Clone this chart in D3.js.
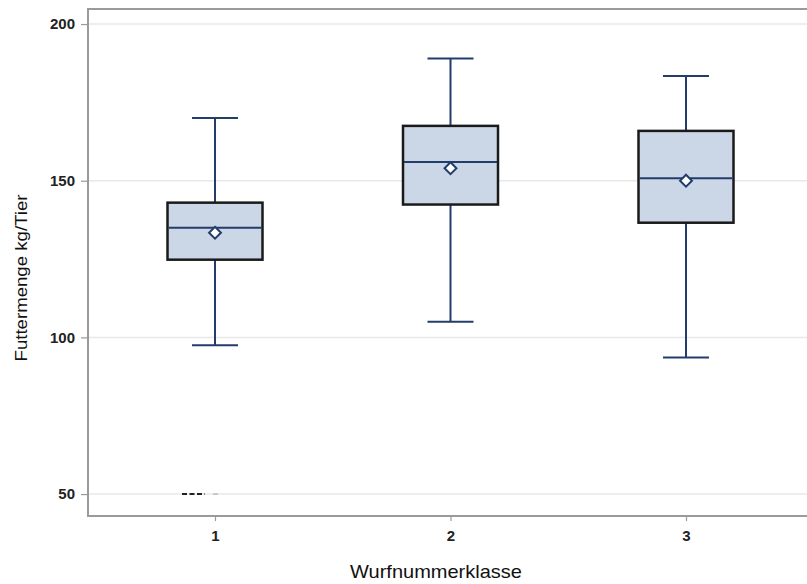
<!DOCTYPE html>
<html>
<head>
<meta charset="utf-8">
<script src="https://cdn.jsdelivr.net/npm/d3@7"></script>
<style>
body{margin:0;background:#fff;}
text{font-family:Arial,"Liberation Sans",sans-serif;}
</style>
</head>
<body>
<svg></svg>
<script>
var screen = {width:807,height:584}
var margins = {top:9,right:-10,bottom:68,left:88}

// data
var classes = ["1","2","3"]
var whiskerLow = [97.5,105,93.6]
var q1 = [124.8,142.4,136.6]
var median = [135,156,150.8]
var q3 = [143,167.5,165.9]
var whiskerHigh = [170,189,183.4]
var means = [133.4,154,150]
var outliers = [{cls:"1",value:50}]
var yTicks = [50,100,150,200]

var svg = d3.select("svg")
    .attr("width",screen.width)
    .attr("height",screen.height)

var width = screen.width - margins.left - margins.right
var height = screen.height - margins.top - margins.bottom

var yScale = d3.scaleLinear()
    .domain([43,204.8])
    .range([margins.top+height,margins.top])

var xScale = d3.scalePoint()
    .domain(classes)
    .range([215,686])

var boxW = 95
var capW = 46

//gridlines
svg.append("g")
    .selectAll("line")
    .data(yTicks)
    .enter()
    .append("line")
    .attr("x1",margins.left)
    .attr("x2",screen.width)
    .attr("y1",function(d){return yScale(d)})
    .attr("y2",function(d){return yScale(d)})
    .attr("stroke","#e8e8e8")
    .attr("stroke-width",1.5)

//axes
var yAxis = d3.axisLeft(yScale).tickValues(yTicks).tickSize(7).tickPadding(6)
svg.append("g")
    .attr("id","yAxis")
    .attr("transform","translate("+margins.left+",0)")
    .call(yAxis)

var xAxis = d3.axisBottom(xScale).tickSize(5).tickPadding(9)
svg.append("g")
    .attr("id","xAxis")
    .attr("transform","translate(0,"+(margins.top+height)+")")
    .call(xAxis)

svg.selectAll("#yAxis .domain, #xAxis .domain").remove()
svg.selectAll(".tick line").attr("stroke","#999").attr("stroke-width",1.2)
svg.selectAll(".tick text")
    .attr("font-size","15px")
    .attr("font-weight","bold")
    .attr("fill","#222")

//frame
svg.append("path")
    .attr("d","M"+screen.width+","+margins.top+"H"+margins.left+"V"+(margins.top+height)+"H"+screen.width)
    .attr("fill","none")
    .attr("stroke","#9a9a9a")
    .attr("stroke-width",2)

//boxes
var boxes = svg.append("g")
    .selectAll("g")
    .data(classes)
    .enter()
    .append("g")

boxes.append("line")
    .attr("x1",function(d){return xScale(d)})
    .attr("x2",function(d){return xScale(d)})
    .attr("y1",function(d,i){return yScale(whiskerLow[i])})
    .attr("y2",function(d,i){return yScale(whiskerHigh[i])})
    .attr("stroke","#233d6b")
    .attr("stroke-width",2)

boxes.selectAll(".cap")
    .data(function(d,i){return [{c:d,v:whiskerLow[i]},{c:d,v:whiskerHigh[i]}]})
    .enter()
    .append("line")
    .attr("class","cap")
    .attr("x1",function(d){return xScale(d.c)-capW/2})
    .attr("x2",function(d){return xScale(d.c)+capW/2})
    .attr("y1",function(d){return yScale(d.v)})
    .attr("y2",function(d){return yScale(d.v)})
    .attr("stroke","#233d6b")
    .attr("stroke-width",2)

boxes.append("rect")
    .attr("x",function(d){return xScale(d)-boxW/2})
    .attr("y",function(d,i){return yScale(q3[i])})
    .attr("width",boxW)
    .attr("height",function(d,i){return yScale(q1[i])-yScale(q3[i])})
    .attr("fill","#cbd6e6")
    .attr("stroke","#1a1a1a")
    .attr("stroke-width",2.5)

boxes.append("line")
    .attr("x1",function(d){return xScale(d)-boxW/2+1})
    .attr("x2",function(d){return xScale(d)+boxW/2-1})
    .attr("y1",function(d,i){return yScale(median[i])})
    .attr("y2",function(d,i){return yScale(median[i])})
    .attr("stroke","#233d6b")
    .attr("stroke-width",2)

boxes.append("path")
    .attr("d",d3.symbol().type(d3.symbolDiamond2).size(90))
    .attr("transform",function(d,i){return "translate("+xScale(d)+","+yScale(means[i])+")"})
    .attr("fill","#fff")
    .attr("stroke","#233d6b")
    .attr("stroke-width",2)

//outlier marks (short dashes, as in the picture)
var out = svg.append("g")
    .selectAll("g")
    .data(outliers)
    .enter()
    .append("g")

out.append("line")
    .attr("x1",function(d){return xScale(d.cls)-33})
    .attr("x2",function(d){return xScale(d.cls)-10})
    .attr("y1",function(d){return yScale(d.value)})
    .attr("y2",function(d){return yScale(d.value)})
    .attr("stroke","#222")
    .attr("stroke-width",2)
    .attr("stroke-dasharray","5,2.5")

out.append("line")
    .attr("x1",function(d){return xScale(d.cls)-2})
    .attr("x2",function(d){return xScale(d.cls)+3})
    .attr("y1",function(d){return yScale(d.value)})
    .attr("y2",function(d){return yScale(d.value)})
    .attr("stroke","#bbb")
    .attr("stroke-width",1.5)

//axis labels
svg.append("text")
    .attr("x",436)
    .attr("y",578)
    .attr("text-anchor","middle")
    .attr("font-size","19px")
    .attr("textLength",172)
    .attr("lengthAdjust","spacingAndGlyphs")
    .attr("fill","#111")
    .text("Wurfnummerklasse")

svg.append("text")
    .attr("transform","translate(27,278) rotate(-90)")
    .attr("text-anchor","middle")
    .attr("font-size","17px")
    .attr("textLength",167)
    .attr("lengthAdjust","spacingAndGlyphs")
    .attr("fill","#111")
    .text("Futtermenge kg/Tier")
</script>
</body>
</html>
